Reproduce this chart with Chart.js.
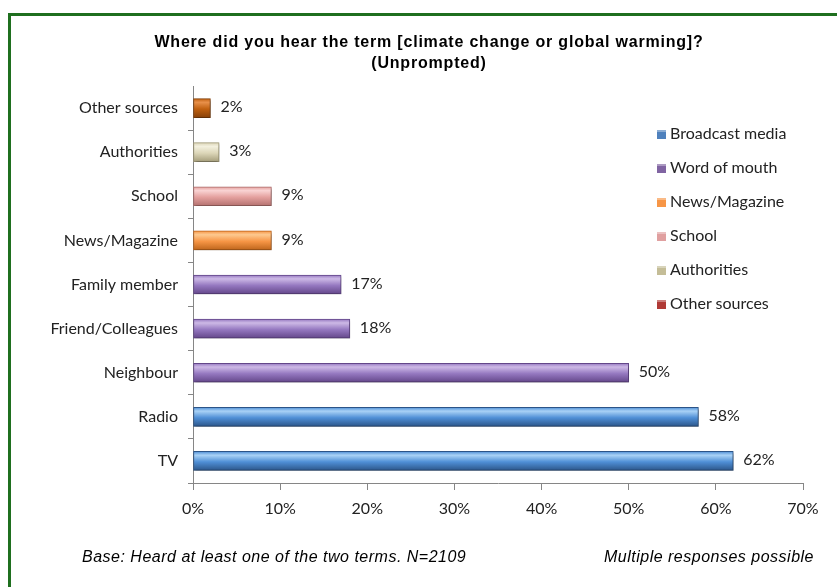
<!DOCTYPE html>
<html>
<head>
<meta charset="utf-8">
<script src="https://cdn.jsdelivr.net/npm/chart.js@4"></script>
<style>
  html, body { margin: 0; padding: 0; background: #fff; overflow: hidden; }
  #wrap { position: relative; width: 837px; height: 587px; }
  #frame { position: absolute; left: 8px; top: 13px; width: 900px; height: 700px; border: 3px solid #1f6f1f; box-sizing: border-box; }
  canvas { position: absolute; left: 0; top: 0; }
  .title { position: absolute; left: 0; width: 858px; text-align: center; font: bold 16px "Liberation Sans", Arial, sans-serif; letter-spacing: 0.8px; color: #000; }
  .foot { position: absolute; top: 548px; font: italic 16px "Liberation Sans", Arial, sans-serif; letter-spacing: 0.5px; color: #000; }
  #legend { position: absolute; left: 657px; top: 122px; font: 16px Lato, sans-serif; color: #222; }
  #legend div { height: 34px; line-height: 22px; white-space: nowrap; }
  #legend span { display: inline-block; width: 9px; height: 9px; margin-right: 4px; vertical-align: 0px; box-shadow: inset 0 2px 0 rgba(255,255,255,0.35); }
</style>
</head>
<body>
<div id="wrap">
  <div id="frame"></div>
  <canvas id="myChart" width="837" height="587"></canvas>
  <div class="title" style="top:33px">Where did you hear the term [climate change or global warming]?</div>
  <div class="title" style="top:54px">(Unprompted)</div>
  <div id="legend"></div>
  <div class="foot" style="left:82px">Base: Heard at least one of the two terms. N=2109</div>
  <div class="foot" style="right:23px">Multiple responses possible</div>
</div>
<script>
// categories top to bottom, as in the picture
const categories = ['Other sources', 'Authorities', 'School', 'News/Magazine', 'Family member', 'Friend/Colleagues', 'Neighbour', 'Radio', 'TV'];
const values = [2, 3, 9, 9, 17, 18, 50, 58, 62];
const categoryGroup = ['Other sources', 'Authorities', 'School', 'News/Magazine', 'Word of mouth', 'Word of mouth', 'Word of mouth', 'Broadcast media', 'Broadcast media'];
const groups = ['Broadcast media', 'Word of mouth', 'News/Magazine', 'School', 'Authorities', 'Other sources'];
const xTicks = [0, 10, 20, 30, 40, 50, 60, 70];

// light / mid / dark shades for the bevelled bars
const shades = {
  'Broadcast media': ['#a9d2f6', '#4f8fd6', '#2c568a'],
  'Word of mouth':   ['#cdb9e6', '#9578c0', '#64478a'],
  'News/Magazine':   ['#fdc98f', '#f79646', '#bf661c'],
  'School':          ['#f9d3d3', '#e4a09e', '#b47270'],
  'Authorities':     ['#f3f0de', '#dcd6b8', '#a59e7b'],
  'Other sources':   ['#e8904a', '#c0600f', '#87420a']
};
const legendColors = {
  'Broadcast media': '#4f81bd',
  'Word of mouth': '#8064a2',
  'News/Magazine': '#f79646',
  'School': '#e0a0a0',
  'Authorities': '#c4bd97',
  'Other sources': '#b03a36'
};

const BAR_H = 19;

function barFill(group) {
  return (ctx) => {
    const s = shades[group];
    const y = ctx.chart.scales && ctx.chart.scales.y;
    if (!y || ctx.dataIndex == null) return s[1];
    const cy = y.getPixelForValue(ctx.dataIndex);
    if (!isFinite(cy)) return s[1];
    const g = ctx.chart.ctx.createLinearGradient(0, cy - BAR_H / 2, 0, cy + BAR_H / 2);
    g.addColorStop(0, s[1]);
    g.addColorStop(0.2, s[0]);
    g.addColorStop(0.55, s[1]);
    g.addColorStop(1, s[2]);
    return g;
  };
}

const datasets = groups.map(g => ({
  label: g,
  data: values.map((v, i) => categoryGroup[i] === g ? v : null),
  backgroundColor: barFill(g),
  borderColor: shades[g][2],
  borderWidth: 1,
  barThickness: BAR_H,
  borderSkipped: false
}));

// soft drop shadow under the bars
const shadowPlugin = {
  id: 'shadow',
  beforeDatasetsDraw(chart) {
    const c = chart.ctx;
    c.save();
    c.shadowColor = 'rgba(0,0,0,0.35)';
    c.shadowBlur = 3;
    c.shadowOffsetX = 1;
    c.shadowOffsetY = 2;
  },
  afterDatasetsDraw(chart) {
    chart.ctx.restore();
  }
};

// percent labels next to each bar
const valueLabels = {
  id: 'valueLabels',
  afterDraw(chart) {
    const c = chart.ctx;
    c.save();
    c.font = '16px Lato, sans-serif';
    c.fillStyle = '#222';
    c.textBaseline = 'middle';
    c.textAlign = 'left';
    chart.data.datasets.forEach((ds, di) => {
      const meta = chart.getDatasetMeta(di);
      meta.data.forEach((el, i) => {
        if (ds.data[i] == null) return;
        c.fillText(ds.data[i] + '%', el.x + 10, el.y - 1);
      });
    });
    c.restore();
  }
};

const legendBox = document.getElementById('legend');
groups.forEach(g => {
  const row = document.createElement('div');
  const sw = document.createElement('span');
  sw.style.background = legendColors[g];
  row.appendChild(sw);
  row.appendChild(document.createTextNode(g));
  legendBox.appendChild(row);
});

const chart = new Chart(document.getElementById('myChart').getContext('2d'), {
  type: 'bar',
  data: { labels: categories, datasets: datasets },
  options: {
    responsive: false,
    animation: false,
    indexAxis: 'y',
    skipNull: true,
    layout: { padding: { left: 0, right: 34, top: 86, bottom: 0 } },
    plugins: {
      legend: { display: false },
      title: { display: false },
      tooltip: { enabled: false }
    },
    scales: {
      x: {
        min: 0,
        max: 70,
        afterBuildTicks: (axis) => { axis.ticks = xTicks.map(v => ({ value: v })); },
        afterFit: (axis) => { axis.height = 104; },
        ticks: {
          callback: v => v + '%',
          font: { family: 'Lato', size: 16 },
          color: '#222',
          padding: 9,
          maxRotation: 0
        },
        grid: { drawOnChartArea: false, drawTicks: true, tickLength: 7, color: '#868686' },
        border: { color: '#868686' }
      },
      y: {
        afterFit: (axis) => { axis.width = 193; },
        ticks: {
          font: { family: 'Lato', size: 16 },
          color: '#222',
          padding: 10
        },
        grid: {
          drawOnChartArea: false, drawTicks: true, tickLength: 5, offset: true,
          color: ctx => ctx.index === 0 ? 'rgba(0,0,0,0)' : '#868686'
        },
        border: { color: '#868686' }
      }
    }
  },
  plugins: [shadowPlugin, valueLabels]
});
chart.update();
</script>
</body>
</html>
